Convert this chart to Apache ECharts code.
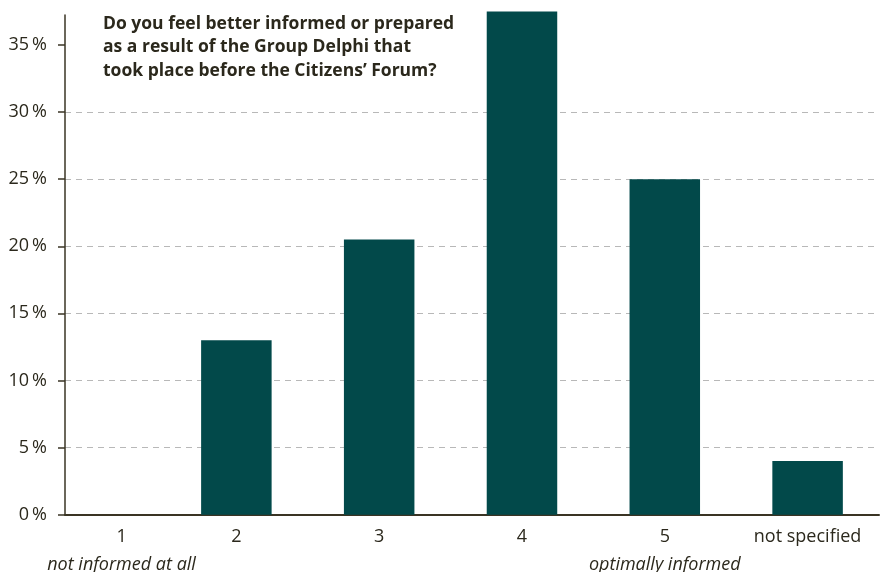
<!DOCTYPE html>
<html>
<head>
<meta charset="utf-8">
<script src="https://cdn.jsdelivr.net/npm/echarts@6/dist/echarts.min.js"></script>
<style>
html,body{margin:0;padding:0;background:#fff;}
#chart{width:882px;height:572px;}
</style>
</head>
<body>
<div id="chart"></div>
<script>
const categories = ['1', '2', '3', '4', '5', 'not specified'];
const subLabels = ['not informed at all', '', '', '', 'optimally informed', ''];
const values = [0, 13.0, 20.5, 37.5, 25.0, 4.0];
const yTicks = [0, 5, 10, 15, 20, 25, 30, 35];
const titleText = 'Do you feel better informed or prepared\nas a result of the Group Delphi that\ntook place before the Citizens\u2019 Forum?';

const FONT = 'Open Sans';
const TEXT = '#2b281c';
const AXIS = '#3a3424';
const FS = 18;

const chart = echarts.init(document.getElementById('chart'), null, {renderer: 'canvas'});
const barData = values.map((v, i) => [i + 1, v]);

chart.setOption({
  animation: false,
  backgroundColor: '#ffffff',
  title: {
    text: titleText,
    left: 98, top: 7,
    textStyle: {fontFamily: FONT, fontWeight: 'bold', fontSize: 17.5, lineHeight: 23.5, color: TEXT}
  },
  grid: {left: 65, right: 3, top: 15, bottom: 57.3, containLabel: false, outerBoundsMode: 'none'},
  xAxis: {
    type: 'value',
    min: 0.8, max: 6.5,
    splitLine: {show: false},
    axisTick: {show: false},
    axisLine: {show: true, onZero: false, lineStyle: {color: AXIS, width: 2}},
    axisLabel: {
      customValues: categories.map((c, i) => i + 1),
      margin: 8,
      color: TEXT,
      fontFamily: FONT,
      fontSize: FS,
      formatter: function (v) {
        const i = Math.round(v) - 1;
        const main = categories[i];
        const sub = subLabels[i];
        const tag = i === 0 ? 'f' : 'm';
        const itag = i === 0 ? 'fi' : 'i';
        return sub ? '{' + tag + '|' + main + '}\n{' + itag + '|' + sub + '}' : '{m|' + main + '}';
      },
      rich: {
        m: {fontFamily: FONT, fontSize: FS, color: TEXT, lineHeight: 28},
        f: {fontFamily: FONT, fontSize: FS, color: TEXT, lineHeight: 28, padding: [0, 0, 0, 56]},
        i: {fontFamily: FONT, fontSize: FS, fontStyle: 'italic', color: TEXT, lineHeight: 28},
        fi: {fontFamily: FONT, fontSize: FS, fontStyle: 'italic', color: TEXT, lineHeight: 28, padding: [0, 0, 0, 56]}
      }
    }
  },
  yAxis: {
    type: 'value',
    min: 0, max: 37.23,
    interval: 5,
    axisLine: {show: true, lineStyle: {color: AXIS, width: 1.5}},
    axisTick: {show: true, length: 7, customValues: yTicks, lineStyle: {color: AXIS, width: 1.5}},
    axisLabel: {
      customValues: yTicks,
      margin: 18,
      color: TEXT,
      fontFamily: FONT,
      fontSize: FS,
      formatter: v => v + '\u2009%'
    },
    splitLine: {
      show: true, showMinLine: false, showMaxLine: false,
      lineStyle: {color: '#b8b8b8', type: [6, 5], width: 1.2}
    }
  },
  series: [{
    type: 'bar',
    data: barData,
    barWidth: 70.5,
    clip: false,
    itemStyle: {color: '#02494a'},
    emphasis: {disabled: true}
  }]
});
</script>
</body>
</html>
